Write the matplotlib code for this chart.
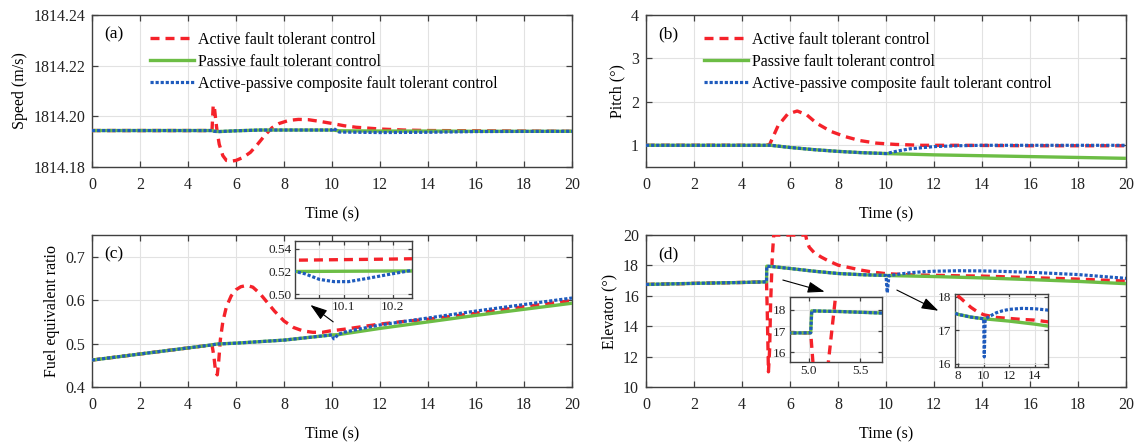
import matplotlib
matplotlib.use('Agg')
import matplotlib.pyplot as plt
from matplotlib.ticker import FormatStrFormatter, FixedLocator

plt.rcParams['font.family'] = ['Liberation Serif', 'DejaVu Serif']
plt.rcParams['font.size'] = 11.5

# ---------------- data ----------------
labels = ['Active fault tolerant control',
          'Passive fault tolerant control',
          'Active-passive composite fault tolerant control']

# (a) Speed (m/s)
ta_afc = [0, 5.0, 5.05, 5.1, 5.15, 5.2, 5.3, 5.45, 5.6, 5.8, 6.0, 6.3, 6.6, 6.9, 7.2, 7.5,
          7.8, 8.2, 8.6, 9.0, 9.5, 10.0, 10.5, 11.0, 12.0, 13.0, 14.0, 16.0, 18.0, 20.0]
speed_afc = [1814.1944, 1814.1944, 1814.2045, 1814.2035, 1814.1990, 1814.1950, 1814.1890,
             1814.1845, 1814.1826, 1814.1823, 1814.1826, 1814.1838, 1814.1858, 1814.1890,
             1814.1925, 1814.1955, 1814.1972, 1814.1984, 1814.1988, 1814.1987, 1814.1980,
             1814.1972, 1814.1963, 1814.1957, 1814.1950, 1814.1946, 1814.1944, 1814.1943,
             1814.1942, 1814.1941]
ta_pfc = [0, 5.0, 5.1, 5.3, 6.0, 7.0, 8.0, 10.0, 10.3, 12.0, 14.0, 16.0, 20.0]
speed_pfc = [1814.1944, 1814.1944, 1814.1941, 1814.1940, 1814.1943, 1814.1946, 1814.1946,
             1814.1946, 1814.1943, 1814.1942, 1814.1942, 1814.1941, 1814.1941]
ta_comp = [0, 5.0, 5.1, 5.3, 6.0, 7.0, 8.0, 10.0, 10.05, 10.3, 12.0, 14.0, 16.0, 20.0]
speed_comp = [1814.1944, 1814.1944, 1814.1941, 1814.1940, 1814.1943, 1814.1946, 1814.1946,
              1814.1946, 1814.1953, 1814.1938, 1814.1936, 1814.1937, 1814.1940, 1814.1941]

# (b) Pitch (deg)
tb_afc = [0, 5.0, 5.15, 5.5, 5.9, 6.3, 6.7, 7.1, 7.7, 8.3, 8.9, 9.6, 10.4, 11.5, 13.0, 16.0, 20.0]
pitch_afc = [1.0, 1.0, 1.02, 1.45, 1.72, 1.79, 1.70, 1.51, 1.32, 1.20, 1.11, 1.05, 1.02,
             1.0, 1.0, 0.99, 0.99]
tb_pfc = [0, 5.0, 5.2, 6.0, 7.0, 8.0, 9.0, 10.0, 12.0, 14.0, 16.0, 18.0, 20.0]
pitch_pfc = [1.0, 1.0, 1.0, 0.95, 0.90, 0.86, 0.83, 0.81, 0.78, 0.76, 0.74, 0.72, 0.70]
tb_comp = [0, 5.0, 5.2, 6.0, 7.0, 8.0, 9.0, 10.0, 10.5, 11.0, 12.0, 13.0, 14.0, 16.0, 20.0]
pitch_comp = [1.0, 1.0, 1.0, 0.95, 0.90, 0.86, 0.83, 0.81, 0.87, 0.92, 0.97, 0.99, 1.0, 1.0, 1.0]

# (c) Fuel equivalent ratio
tc_afc = [0, 5.0, 5.08, 5.15, 5.22, 5.28, 5.35, 5.45, 5.6, 5.8, 6.0, 6.2, 6.45, 6.7, 7.0, 7.3,
          7.6, 8.0, 8.4, 8.8, 9.2, 9.6, 10.0, 10.2, 10.5, 11.0, 12.0, 13.0, 14.0, 16.0, 18.0, 20.0]
fuel_afc = [0.462, 0.497, 0.470, 0.435, 0.428, 0.460, 0.510, 0.550, 0.585, 0.610, 0.624, 0.631,
            0.634, 0.630, 0.615, 0.595, 0.575, 0.552, 0.537, 0.529, 0.526, 0.526, 0.530, 0.531,
            0.533, 0.537, 0.545, 0.551, 0.556, 0.570, 0.585, 0.599]
tc_pfc = [0, 5.0, 5.2, 6.0, 8.0, 10.0, 10.25, 12.0, 14.0, 16.0, 18.0, 20.0]
fuel_pfc = [0.462, 0.497, 0.499, 0.501, 0.508, 0.520, 0.5205, 0.535, 0.550, 0.565, 0.579, 0.593]
tc_comp = [0, 5.0, 5.2, 6.0, 8.0, 10.0, 10.02, 10.05, 10.08, 10.11, 10.15, 10.2, 10.24, 10.5,
           11.0, 12.0, 14.0, 16.0, 18.0, 20.0]
fuel_comp = [0.462, 0.497, 0.499, 0.501, 0.508, 0.520, 0.518, 0.513, 0.511, 0.511, 0.514,
             0.518, 0.521, 0.526, 0.532, 0.543, 0.559, 0.575, 0.590, 0.605]

# (d) Elevator (deg)
td_afc = [0, 2.0, 4.0, 5.0, 5.02, 5.05, 5.1, 5.15, 5.19, 5.26, 5.32, 6.65, 6.7, 6.8, 7.0, 7.3,
          7.6, 8.0, 8.5, 9.0, 9.5, 10.0, 11.0, 12.0, 13.0, 14.0, 16.0, 18.0, 20.0]
elev_afc = [16.75, 16.82, 16.88, 16.92, 16.92, 15.0, 11.0, 12.5, 15.5, 18.6, 20.0, 20.0, 19.6,
            19.2, 18.85, 18.55, 18.3, 18.02, 17.85, 17.68, 17.55, 17.46, 17.38, 17.35, 17.32,
            17.30, 17.20, 17.10, 16.97]
td_pfc = [0, 2.0, 4.0, 5.0, 5.02, 5.03, 5.3, 5.7, 6.0, 7.0, 8.0, 9.0, 10.0, 12.0, 14.0, 16.0,
          18.0, 20.0]
elev_pfc = [16.75, 16.82, 16.88, 16.92, 16.92, 17.95, 17.92, 17.85, 17.80, 17.62, 17.47, 17.39,
            17.34, 17.27, 17.18, 17.07, 16.95, 16.80]
td_comp = [0, 2.0, 4.0, 5.0, 5.02, 5.03, 5.3, 5.7, 6.0, 7.0, 8.0, 9.0, 10.0, 10.02, 10.05,
           10.08, 10.12, 10.5, 11.0, 11.5, 12.0, 13.0, 14.0, 15.0, 16.0, 18.0, 20.0]
elev_comp = [16.75, 16.82, 16.88, 16.92, 16.92, 17.95, 17.92, 17.85, 17.80, 17.62, 17.47, 17.39,
             17.34, 16.8, 16.2, 16.7, 17.33, 17.42, 17.52, 17.58, 17.62, 17.65, 17.64, 17.60,
             17.55, 17.40, 17.15]

x_ticks = [0, 2, 4, 6, 8, 10, 12, 14, 16, 18, 20]

# ---------------- styles ----------------
RED = '#f5222a'
GREEN = '#6cbd45'
BLUE = '#1f5bbd'
AX_COLOR = '#404040'
GRID_COLOR = '#e2e2e2'


def draw(ax, t1, y1, t2, y2, t3, y3, lw=2.4):
    ax.plot(t1, y1, color=RED, lw=lw, dashes=(2.7, 1.8), label=labels[0], zorder=3)
    ax.plot(t2, y2, color=GREEN, lw=lw, label=labels[1], zorder=3)
    ax.plot(t3, y3, color=BLUE, lw=lw * 0.95, dashes=(1.0, 0.6), label=labels[2], zorder=4)


def style(ax, fs=11.5, tl=4):
    ax.grid(True, color=GRID_COLOR, lw=0.8, zorder=0)
    ax.set_axisbelow(True)
    for s in ax.spines.values():
        s.set_color(AX_COLOR)
        s.set_linewidth(1.0)
    ax.tick_params(direction='in', top=True, right=True, length=tl, width=0.9,
                   colors='#222222', labelsize=fs, color=AX_COLOR)


fig = plt.figure(figsize=(11.4, 4.43), dpi=100)

AX_A = [0.0807, 0.623, 0.4211, 0.343]
AX_B = [0.5667, 0.623, 0.4211, 0.343]
AX_C = [0.0807, 0.1264, 0.4211, 0.343]
AX_D = [0.5667, 0.1264, 0.4211, 0.343]

axa = fig.add_axes(AX_A)
axb = fig.add_axes(AX_B)
axc = fig.add_axes(AX_C)
axd = fig.add_axes(AX_D)

draw(axa, ta_afc, speed_afc, ta_pfc, speed_pfc, ta_comp, speed_comp)
draw(axb, tb_afc, pitch_afc, tb_pfc, pitch_pfc, tb_comp, pitch_comp)
draw(axc, tc_afc, fuel_afc, tc_pfc, fuel_pfc, tc_comp, fuel_comp)
draw(axd, td_afc, elev_afc, td_pfc, elev_pfc, td_comp, elev_comp)

for ax in (axa, axb, axc, axd):
    style(ax)
    ax.tick_params(axis='x', pad=7)
    ax.tick_params(axis='y', pad=5)
    ax.set_xlim(0, 20)
    ax.set_xticks(x_ticks)
    ax.set_xlabel('Time (s)', fontsize=11.5, labelpad=9.5)

axa.set_ylim(1814.18, 1814.24)
axa.set_yticks([1814.18, 1814.20, 1814.22, 1814.24])
axa.yaxis.set_major_formatter(FormatStrFormatter('%.2f'))
axa.set_ylabel('Speed (m/s)')

axb.set_ylim(0.5, 4)
axb.set_yticks([1, 2, 3, 4])
axb.set_ylabel('Pitch (°)')

axc.set_ylim(0.4, 0.75)
axc.set_yticks([0.4, 0.5, 0.6, 0.7])
axc.yaxis.set_major_formatter(FormatStrFormatter('%.1f'))
axc.set_ylabel('Fuel equivalent ratio')

axd.set_ylim(10, 20)
axd.set_yticks([10, 12, 14, 16, 18, 20])
axd.set_ylabel('Elevator (°)')

for ax, tag in ((axa, '(a)'), (axb, '(b)'), (axc, '(c)'), (axd, '(d)')):
    ax.text(0.046, 0.872, tag, transform=ax.transAxes, ha='center', va='center',
            fontsize=12.5, zorder=6)

for ax in (axa, axb):
    ax.legend(loc='upper left', bbox_to_anchor=(0.12, 0.89), frameon=False,
              borderpad=0, borderaxespad=0, handlelength=2.75, handletextpad=0.25,
              labelspacing=0.37, fontsize=11.5)

# arrows
arrow_kw = dict(arrowstyle='-|>,head_length=0.9,head_width=0.3', color='black', lw=0.8,
                shrinkA=0, shrinkB=0)
axc.annotate('', xy=(9.1, 0.589), xytext=(10.05, 0.550), arrowprops=arrow_kw, zorder=5)
axd.annotate('', xy=(7.44, 16.27), xytext=(5.7, 17.04), arrowprops=arrow_kw, zorder=5)
axd.annotate('', xy=(12.18, 15.02), xytext=(10.45, 16.38), arrowprops=arrow_kw, zorder=5)

# insets
INS_C = [0.2588, 0.3273, 0.1026, 0.1287]
INS_D1 = [0.6930, 0.1828, 0.0807, 0.1467]
INS_D2 = [0.8377, 0.1716, 0.0816, 0.1648]

ic = fig.add_axes(INS_C, zorder=10)
draw(ic, tc_afc, fuel_afc, tc_pfc, fuel_pfc, tc_comp, fuel_comp)
style(ic, fs=9.5, tl=3)
ic.set_xlim(10.0, 10.24)
ic.set_ylim(0.4965, 0.547)
ic.xaxis.set_major_locator(FixedLocator([10.05, 10.1, 10.15, 10.2]))
ic.set_xticklabels(['', '10.1', '', '10.2'])
ic.set_yticks([0.50, 0.52, 0.54])
ic.yaxis.set_major_formatter(FormatStrFormatter('%.2f'))
ic.tick_params(pad=2.5)

i1 = fig.add_axes(INS_D1, zorder=10)
draw(i1, td_afc, elev_afc, td_pfc, elev_pfc, td_comp, elev_comp)
style(i1, fs=9.5, tl=3)
i1.set_xlim(4.82, 5.71)
i1.set_ylim(15.55, 18.6)
i1.set_xticks([5.0, 5.5])
i1.xaxis.set_major_formatter(FormatStrFormatter('%.1f'))
i1.set_yticks([16, 17, 18])
i1.tick_params(pad=2.5)

i2 = fig.add_axes(INS_D2, zorder=10)
draw(i2, td_afc, elev_afc, td_pfc, elev_pfc, td_comp, elev_comp)
style(i2, fs=9.5, tl=3)
i2.set_xlim(7.75, 15.05)
i2.set_ylim(15.9, 18.08)
i2.set_xticks([8, 10, 12, 14])
i2.set_yticks([16, 17, 18])
i2.tick_params(pad=2.5)

fig.savefig('out.png', dpi=100)
